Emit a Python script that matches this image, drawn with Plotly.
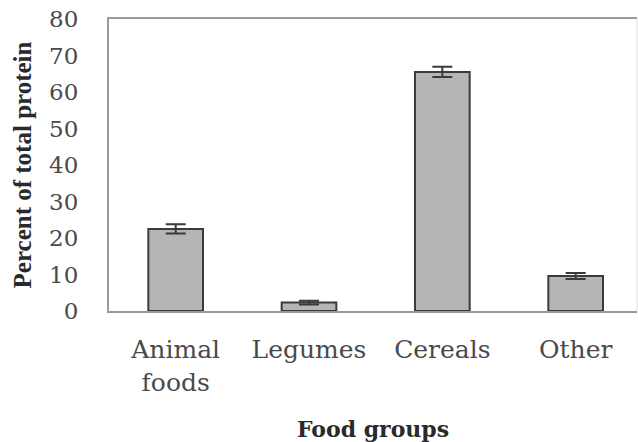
import plotly.graph_objects as go

# Share of total dietary protein by food group (mean ± error)
categories = ["Animal<br>foods", "Legumes", "Cereals", "Other"]
percent_protein = [22.5, 2.3, 65.5, 9.6]
error_margin = [1.3, 0.5, 1.4, 0.8]
y_ticks = [0, 10, 20, 30, 40, 50, 60, 70, 80]

wide_serif = "DejaVu Serif, serif"
serif = "Liberation Serif, Times New Roman, serif"

fig = go.Figure(
    go.Bar(
        x=list(range(len(categories))),
        y=percent_protein,
        width=0.41,
        marker=dict(color="#b5b5b5", line=dict(color="#3a3a3a", width=2)),
        error_y=dict(type="data", array=error_margin, visible=True,
                     color="#3a3a3a", thickness=2, width=10),
    )
)

fig.update_layout(
    width=638,
    height=442,
    margin=dict(l=109, r=1, t=19, b=131),
    paper_bgcolor="white",
    plot_bgcolor="white",
    showlegend=False,
    font=dict(family=wide_serif, color="#3a3a3a"),
)

fig.update_xaxes(
    range=[-0.5, 3.46],
    tickmode="array",
    tickvals=list(range(len(categories))),
    ticktext=categories,
    tickfont=dict(family=wide_serif, size=25, color="#4a4a4a"),
    ticklabelstandoff=15,
    showline=True,
    linecolor="#9a9a9a",
    linewidth=2,
    mirror=True,
    ticks="",
    showgrid=False,
    automargin=False,
    title=dict(text="<b>Food groups</b>",
               font=dict(family=wide_serif, size=22, color="#2a2a2a"), standoff=26),
)

fig.update_yaxes(
    range=[0, 80],
    tickmode="array",
    tickvals=y_ticks,
    tickfont=dict(family=wide_serif, size=23, color="#4a4a4a"),
    ticklabelstandoff=24,
    showline=True,
    linecolor="#9a9a9a",
    linewidth=2,
    ticks="",
    showgrid=False,
    zeroline=False,
    automargin=False,
    title=dict(text="<b>Percent of total protein</b>",
               font=dict(family=serif, size=25, color="#2a2a2a"), standoff=10),
)

# faint right-hand frame edge
fig.add_shape(type="line", xref="paper", yref="paper", x0=1, x1=1, y0=0, y1=1,
              line=dict(color="#dddddd", width=1))

fig.write_html("out.html")
